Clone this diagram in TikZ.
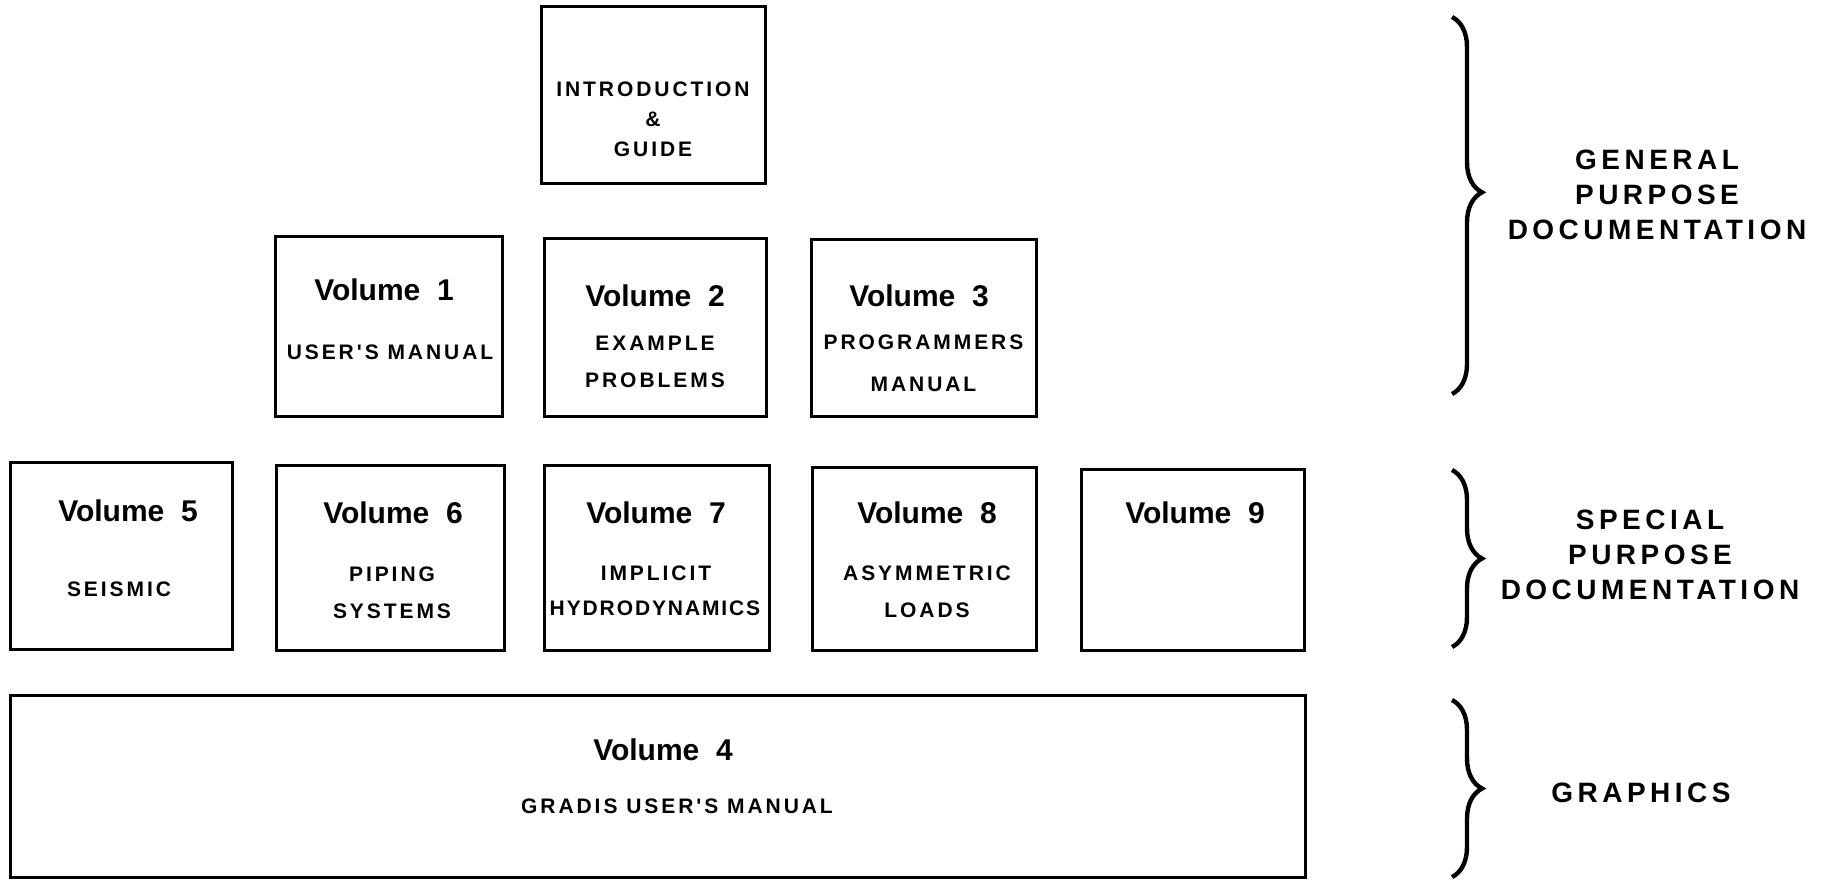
\documentclass[tikz,border=0pt]{standalone}
\usepackage{fontspec}
\setmainfont{Liberation Sans}
\newfontfamily\subf[LetterSpace=14]{Liberation Sans}
\newfontfamily\subn[LetterSpace=9]{Liberation Sans}
\newfontfamily\sidef[LetterSpace=16]{Liberation Sans}
\usetikzlibrary{decorations.pathreplacing}
\begin{document}
\begin{tikzpicture}[x=0.5pt,y=-0.5pt,
  box/.style={draw, line width=1.5pt, inner sep=0pt},
  ttl/.style={font=\bfseries\fontsize{15}{16}\selectfont},
  subl/.style={font=\subf\bfseries\fontsize{10.5}{18.5}\selectfont, align=center},
  side/.style={font=\sidef\bfseries\fontsize{14}{17.5}\selectfont, align=center},
  brc/.style={decorate, decoration={brace, amplitude=15pt, aspect=#1}, line width=2.2pt},
  brc/.default=0.5]
\useasboundingbox (0,0) rectangle (1829,880);
% boxes
\node[box, minimum width=112pt, minimum height=88.5pt] (intro) at (653,94.5) {};
\node[box, minimum width=113.5pt, minimum height=90pt] (v1) at (388.5,326) {};
\node[box, minimum width=111pt, minimum height=89pt] (v2) at (655,327) {};
\node[box, minimum width=112.5pt, minimum height=88.5pt] (v3) at (923.5,327.5) {};
\node[box, minimum width=111pt, minimum height=93.5pt] (v5) at (121,555.5) {};
\node[box, minimum width=114pt, minimum height=92.5pt] (v6) at (390,557.5) {};
\node[box, minimum width=112.5pt, minimum height=92.5pt] (v7) at (656.5,557.5) {};
\node[box, minimum width=112pt, minimum height=91.5pt] (v8) at (924,558.5) {};
\node[box, minimum width=111.5pt, minimum height=90.5pt] (v9) at (1192.5,559.5) {};
\node[box, minimum width=647.5pt, minimum height=91pt] (v4) at (657.5,786) {};
% texts
\node[subl, font=\subf\bfseries\fontsize{10.5}{15}\selectfont] (introt) at (653,119) {INTRODUCTION\\\&\\GUIDE};
\node[ttl] (v1t) at (384,290) {Volume\ \ 1};
\node[subl] (v1s) at (390,352) {USER'S MANUAL};
\node[ttl] (v2t) at (655,296) {Volume\ \ 2};
\node[subl] (v2s) at (655,361.5) {EXAMPLE\\PROBLEMS};
\node[ttl] (v3t) at (919,296) {Volume\ \ 3};
\node[subl, font=\subf\bfseries\fontsize{10.5}{21}\selectfont] (v3s) at (923.5,363) {PROGRAMMERS\\MANUAL};
\node[ttl] (v5t) at (128,511) {Volume\ \ 5};
\node[subl] (v5s) at (119,589) {SEISMIC};
\node[ttl] (v6t) at (393,513) {Volume\ \ 6};
\node[subl] (v6s) at (392,592.5) {PIPING\\SYSTEMS};
\node[ttl] (v7t) at (656,513) {Volume\ \ 7};
\node[subl] (v7s) at (656,573) {IMPLICIT};
\node[subl, font=\subn\bfseries\fontsize{10.5}{18.5}\selectfont] (v7s2) at (655,608) {HYDRODYNAMICS};
\node[ttl] (v8t) at (927,513) {Volume\ \ 8};
\node[subl] (v8s) at (927,591.5) {ASYMMETRIC\\LOADS};
\node[ttl] (v9t) at (1195,513) {Volume\ \ 9};
\node[ttl] (v4t) at (663,750) {Volume\ \ 4};
\node[subl] (v4s) at (677,806) {GRADIS USER'S MANUAL};
% side labels
\node[side] (gen) at (1657,195) {GENERAL\\PURPOSE\\DOCUMENTATION};
\node[side] (spe) at (1650,555) {SPECIAL\\PURPOSE\\DOCUMENTATION};
\node[side] (gra) at (1641,793) {GRAPHICS};
% braces
\coordinate (b1a) at (1452,17);
\coordinate (b1b) at (1452,394);
\coordinate (b2a) at (1452,470);
\coordinate (b2b) at (1452,647);
\coordinate (b3a) at (1452,700);
\coordinate (b3b) at (1452,877);
\draw[brc=0.465] (b1a) -- (b1b);
\draw[brc] (b2a) -- (b2b);
\draw[brc] (b3a) -- (b3b);
\end{tikzpicture}
\end{document}
